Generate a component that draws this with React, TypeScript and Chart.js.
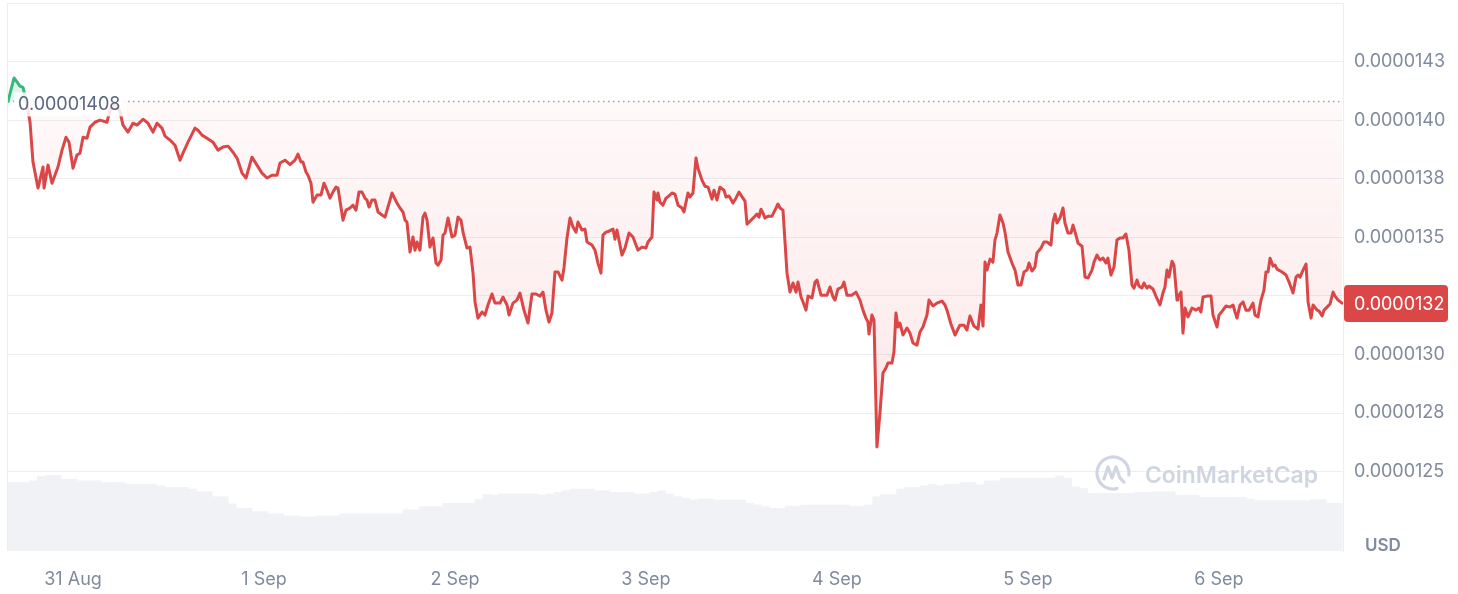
import React, { useEffect, useRef } from 'react';
import { Chart, registerables } from 'chart.js';

Chart.register(...registerables);

// ---------- style ----------
const RED = '#db4646';
const GREEN = '#35b97a';
const GREEN_FILL = 'rgba(22,199,132,0.14)';
const GRID = '#eceef2';
const AXIS_TEXT = '#808a9d';
const LABEL_TEXT = '#58667e';
const VOLUME_COLOR = '#f1f2f6';
const WATERMARK_COLOR = '#d0d6e1';
const FONT = 'Inter, "Noto Sans", sans-serif';

// ---------- data ----------
// prices in micro-USD (1 = 0.000001 USD); time in hours since 31 Aug 00:00
const OPEN_PRICE = 14.08;
const OPEN_LABEL = '0.00001408';
const LAST_LABEL = '0.0000132';
const CURRENCY = 'USD';
const WATERMARK = 'CoinMarketCap';

const X_MIN = -8.17;
const X_MAX = 159.6;
const Y_MIN = 12.161;
const Y_MAX = 14.5;

const xTickHours = [0, 24, 48, 72, 96, 120, 144];
const xTickLabels = ['31 Aug', '1 Sep', '2 Sep', '3 Sep', '4 Sep', '5 Sep', '6 Sep'];

const yTickValues = [12.5, 12.75, 13, 13.25, 13.5, 13.75, 14, 14.25, 14.5];
const yTickLabels = ['0.0000125', '0.0000128', '0.0000130', '0.0000132', '0.0000135', '0.0000138', '0.0000140', '0.0000143', ''];

const priceHours = [
  -8.17, -7.41, -6.66, -6.28, -5.78, -5.40, -5.03, -4.40, -3.77, -3.64, -3.14, -2.64, -1.89, -1.38, -0.88, -0.50,
  0.00, 0.50, 0.88, 1.26, 1.76, 2.14, 2.76, 3.39, 4.27, 4.65, 5.28, 5.91, 6.28, 6.91, 7.54, 8.04,
  8.80, 9.42, 10.05, 10.56, 11.18, 11.56, 12.19, 12.82, 13.45, 13.82, 14.45, 15.33, 15.71, 16.21, 16.84, 17.59,
  18.22, 18.85, 19.48, 20.11, 20.61, 21.24, 21.74, 22.49, 23.12, 23.75, 24.38, 25.01, 25.64, 26.01, 26.64, 27.27,
  27.90, 28.27, 28.65, 28.90, 29.28, 29.53, 29.91, 30.16, 30.66, 31.16, 31.54, 31.92, 32.30, 32.67, 33.05, 33.30,
  33.93, 34.31, 34.81, 35.19, 35.56, 35.94, 36.32, 36.69, 36.94, 37.20, 37.57, 37.95, 38.33, 38.83, 39.21, 39.58,
  40.09, 40.21, 40.71, 41.09, 41.47, 41.72, 41.97, 42.35, 42.72, 42.98, 43.23, 43.60, 43.98, 44.23, 44.49, 44.86,
  45.24, 45.62, 45.87, 46.25, 46.50, 46.75, 47.13, 47.63, 48.00, 48.38, 48.76, 49.01, 49.51, 49.89, 50.27, 50.52,
  50.89, 51.40, 51.77, 52.15, 52.65, 53.03, 53.66, 54.03, 54.54, 54.79, 55.29, 55.79, 56.17, 56.67, 57.18, 57.68,
  58.18, 58.69, 59.06, 59.44, 59.82, 60.19, 60.57, 60.95, 61.45, 61.70, 62.08, 62.46, 62.83, 63.21, 63.46, 63.96,
  64.34, 64.59, 65.22, 65.60, 65.97, 66.35, 66.60, 66.98, 67.36, 67.86, 68.11, 68.36, 68.99, 69.37, 69.87, 70.37,
  71.00, 71.50, 72.00, 72.26, 72.76, 73.01, 73.39, 73.51, 73.76, 74.14, 74.52, 74.89, 75.27, 75.65, 76.03, 76.53,
  76.78, 77.28, 77.53, 77.91, 78.29, 78.54, 79.04, 79.42, 79.80, 80.30, 80.55, 80.93, 81.30, 81.81, 82.06, 82.44,
  82.94, 83.31, 83.69, 84.19, 84.45, 84.70, 85.20, 85.70, 85.95, 86.21, 86.46, 86.71, 86.96, 87.34, 87.84, 88.22,
  88.59, 88.85, 89.22, 89.73, 90.10, 90.48, 90.86, 91.11, 91.49, 91.74, 92.12, 92.37, 92.87, 93.25, 93.50, 94.00,
  94.75, 95.13, 95.51, 95.76, 96.13, 96.64, 96.89, 97.26, 97.89, 98.39, 98.90, 99.27, 99.65, 99.90, 100.03, 100.40,
  100.66, 101.03, 101.41, 101.79, 102.16, 102.41, 102.92, 103.17, 103.42, 103.67, 103.92, 104.30, 104.80, 105.18, 105.56, 106.06,
  106.44, 106.81, 107.32, 107.57, 108.07, 108.57, 109.20, 109.58, 109.83, 110.33, 110.84, 111.46, 111.97, 112.34, 112.72, 113.22,
  113.73, 114.10, 114.36, 114.61, 114.86, 115.24, 115.61, 115.86, 116.12, 116.49, 116.87, 117.12, 117.50, 118.00, 118.38, 118.76,
  119.13, 119.51, 119.89, 120.14, 120.51, 120.89, 121.14, 121.65, 122.02, 122.40, 122.90, 123.15, 123.41, 123.66, 124.03, 124.41,
  124.66, 125.04, 125.42, 125.67, 126.04, 126.30, 126.80, 127.18, 127.55, 128.06, 128.31, 128.68, 129.06, 129.44, 129.81, 130.06,
  130.44, 130.82, 131.19, 131.57, 131.95, 132.32, 132.70, 133.08, 133.33, 133.71, 133.96, 134.33, 134.59, 134.96, 135.22, 135.72,
  136.09, 136.60, 136.97, 137.23, 137.48, 137.73, 138.11, 138.36, 138.74, 138.86, 139.24, 139.49, 139.74, 140.12, 140.62, 141.13,
  141.50, 141.75, 142.01, 142.51, 143.01, 143.26, 143.77, 144.02, 144.52, 144.90, 145.40, 145.78, 146.03, 146.28, 146.66, 147.04,
  147.41, 147.79, 148.29, 148.54, 148.92, 149.30, 149.67, 149.92, 150.18, 150.43, 150.81, 151.06, 151.31, 151.94, 152.44, 152.82,
  153.32, 153.70, 153.95, 154.20, 154.58, 154.96, 155.21, 155.59, 155.84, 156.34, 156.59, 156.97, 157.22, 157.60, 157.97, 158.35,
  158.60, 158.98, 159.48,
];

const priceMicro = [
  14.080, 14.180, 14.145, 14.140, 14.064, 13.991, 13.821, 13.710, 13.800, 13.710, 13.808, 13.731, 13.800, 13.872, 13.927, 13.906,
  13.795, 13.851, 13.859, 13.927, 13.923, 13.970, 13.991, 14.000, 13.991, 14.043, 14.077, 14.034, 13.979, 13.949, 13.987, 13.979,
  14.004, 13.987, 13.949, 13.987, 13.966, 13.932, 13.915, 13.893, 13.829, 13.859, 13.906, 13.966, 13.957, 13.936, 13.923, 13.906,
  13.872, 13.885, 13.889, 13.863, 13.838, 13.774, 13.753, 13.842, 13.808, 13.774, 13.753, 13.765, 13.765, 13.817, 13.829, 13.810,
  13.829, 13.855, 13.821, 13.821, 13.778, 13.765, 13.731, 13.650, 13.680, 13.680, 13.731, 13.701, 13.667, 13.693, 13.714, 13.710,
  13.573, 13.616, 13.625, 13.637, 13.616, 13.693, 13.693, 13.667, 13.659, 13.629, 13.659, 13.659, 13.608, 13.595, 13.586, 13.629,
  13.689, 13.689, 13.646, 13.625, 13.608, 13.573, 13.565, 13.437, 13.501, 13.445, 13.480, 13.445, 13.586, 13.603, 13.573, 13.458,
  13.497, 13.390, 13.381, 13.403, 13.509, 13.518, 13.582, 13.501, 13.509, 13.586, 13.573, 13.522, 13.454, 13.458, 13.347, 13.224,
  13.155, 13.181, 13.168, 13.211, 13.258, 13.219, 13.219, 13.245, 13.211, 13.168, 13.219, 13.232, 13.262, 13.189, 13.134, 13.258,
  13.258, 13.249, 13.266, 13.189, 13.138, 13.177, 13.352, 13.352, 13.317, 13.369, 13.497, 13.582, 13.544, 13.522, 13.565, 13.531,
  13.535, 13.480, 13.467, 13.445, 13.390, 13.347, 13.509, 13.522, 13.526, 13.535, 13.492, 13.531, 13.424, 13.454, 13.518, 13.501,
  13.445, 13.458, 13.454, 13.480, 13.501, 13.693, 13.659, 13.689, 13.650, 13.637, 13.667, 13.676, 13.689, 13.684, 13.637, 13.625,
  13.608, 13.689, 13.672, 13.689, 13.838, 13.795, 13.744, 13.718, 13.714, 13.663, 13.701, 13.659, 13.714, 13.701, 13.672, 13.676,
  13.646, 13.667, 13.693, 13.667, 13.654, 13.556, 13.573, 13.590, 13.599, 13.586, 13.620, 13.603, 13.582, 13.590, 13.590, 13.616,
  13.642, 13.625, 13.616, 13.347, 13.266, 13.305, 13.266, 13.309, 13.245, 13.224, 13.189, 13.249, 13.241, 13.309, 13.317, 13.253,
  13.253, 13.288, 13.245, 13.232, 13.279, 13.288, 13.309, 13.253, 13.253, 13.266, 13.232, 13.189, 13.155, 13.138, 13.087, 13.168,
  13.147, 12.605, 12.750, 12.921, 12.942, 12.963, 12.963, 13.010, 13.177, 13.117, 13.134, 13.083, 13.113, 13.091, 13.049, 13.040,
  13.096, 13.117, 13.168, 13.232, 13.207, 13.219, 13.228, 13.211, 13.189, 13.130, 13.083, 13.125, 13.125, 13.104, 13.164, 13.121,
  13.108, 13.211, 13.121, 13.394, 13.360, 13.407, 13.394, 13.488, 13.518, 13.595, 13.561, 13.522, 13.437, 13.390, 13.360, 13.296,
  13.296, 13.352, 13.360, 13.390, 13.356, 13.373, 13.433, 13.454, 13.480, 13.480, 13.467, 13.565, 13.599, 13.561, 13.582, 13.625,
  13.561, 13.518, 13.518, 13.552, 13.509, 13.475, 13.462, 13.330, 13.326, 13.360, 13.394, 13.424, 13.403, 13.411, 13.390, 13.411,
  13.339, 13.373, 13.488, 13.497, 13.497, 13.514, 13.445, 13.296, 13.283, 13.317, 13.292, 13.283, 13.305, 13.283, 13.292, 13.279,
  13.249, 13.211, 13.262, 13.288, 13.360, 13.330, 13.398, 13.381, 13.232, 13.245, 13.266, 13.091, 13.198, 13.160, 13.198, 13.189,
  13.198, 13.181, 13.245, 13.249, 13.249, 13.168, 13.117, 13.168, 13.189, 13.207, 13.202, 13.211, 13.181, 13.155, 13.211, 13.224,
  13.189, 13.189, 13.219, 13.168, 13.160, 13.232, 13.275, 13.352, 13.352, 13.411, 13.377, 13.381, 13.364, 13.352, 13.339, 13.309,
  13.262, 13.330, 13.339, 13.330, 13.360, 13.386, 13.224, 13.155, 13.211, 13.189, 13.185, 13.164, 13.189, 13.202, 13.215, 13.266,
  13.249, 13.232, 13.219,
];

// hourly volume (relative units, hidden axis 0..100), first bar at hour -8
const VOLUME_START_HOUR = -8;
const volumeValues = [
  12.5, 12.5, 12.5, 12.8, 13.6, 13.8, 13.8, 13.1,
  13.1, 12.8, 12.8, 12.8, 12.5, 12.5, 12.5, 12.2, 12.2, 12.2, 12.2, 11.9,
  11.6, 11.6, 11.6, 11.3, 10.8, 10.8, 9.9, 9.9, 8.6, 7.8, 7.8, 7.2,
  7.2, 6.8, 6.8, 6.4, 6.4, 6.2, 6.2, 6.4, 6.4, 6.4, 6.8, 6.8,
  6.8, 6.8, 6.8, 6.8, 6.8, 6.8, 7.5, 7.5, 8.1, 8.1, 8.1, 8.7,
  8.7, 8.7, 8.7, 9.4, 10.3, 10.2, 10.4, 10.4, 10.4, 10.4, 10.4, 10.2,
  10.4, 10.7, 11.0, 11.3, 11.3, 11.3, 11.0, 11.0, 10.7, 10.7, 10.7, 10.4,
  10.4, 10.7, 11.0, 10.4, 9.9, 9.6, 9.3, 9.5, 9.5, 9.3, 9.3, 9.3,
  9.3, 8.7, 8.4, 8.1, 7.8, 7.8, 8.2, 8.2, 8.4, 8.4, 8.4, 8.4,
  8.4, 8.4, 8.2, 8.2, 8.4, 9.9, 10.3, 10.3, 11.3, 11.6, 11.6, 11.9,
  12.2, 11.9, 12.2, 12.2, 12.5, 12.5, 12.1, 12.8, 12.8, 13.3, 13.3, 13.3,
  13.3, 13.3, 13.3, 13.3, 13.7, 13.3, 11.7, 11.4, 10.5, 10.5, 10.5, 10.5,
  10.5, 10.5, 10.7, 10.7, 10.8, 10.8, 10.8, 10.2, 10.2, 10.2, 9.8, 9.8,
  9.8, 9.8, 9.8, 9.8, 9.5, 9.2, 9.2, 9.2, 9.2, 9.2, 9.2, 9.2,
  9.4, 9.4, 8.7, 8.7,
];

const priceData = priceHours.map((h, i) => ({ x: h, y: priceMicro[i] }));
const volumeData = volumeValues.map((v, i) => ({ x: VOLUME_START_HOUR + i, y: v }));

function belowFill(ctx: any) {
  const chart = ctx.chart;
  const area = chart.chartArea;
  const ys = chart.scales && chart.scales.y;
  if (!area || !ys) return 'rgba(234,57,67,0.07)';
  const top = ys.getPixelForValue(OPEN_PRICE);
  const g = chart.ctx.createLinearGradient(0, top, 0, area.bottom);
  g.addColorStop(0, 'rgba(234,57,67,0.03)');
  g.addColorStop(1, 'rgba(234,57,67,0.15)');
  return g;
}

const overlayPlugin = {
  id: 'cmcOverlay',
  beforeDatasetsDraw(chart: any) {
    const { ctx, chartArea: a, scales } = chart;
    const y = scales.y.getPixelForValue(OPEN_PRICE);
    ctx.save();
    ctx.strokeStyle = GRID;
    ctx.lineWidth = 1;
    ctx.beginPath();
    ctx.moveTo(a.left - 0.5, a.top);
    ctx.lineTo(a.left - 0.5, a.bottom);
    ctx.stroke();
    ctx.setLineDash([1.5, 3.5]);
    ctx.strokeStyle = '#9aa3b3';
    ctx.lineWidth = 1.5;
    ctx.beginPath();
    ctx.moveTo(a.left, y);
    ctx.lineTo(a.right, y);
    ctx.stroke();
    ctx.restore();
  },
  afterDatasetsDraw(chart: any) {
    const { ctx, chartArea: a, scales } = chart;
    const y = scales.y.getPixelForValue(OPEN_PRICE);
    ctx.save();
    // open price label
    ctx.font = `18px ${FONT}`;
    const tw = ctx.measureText(OPEN_LABEL).width;
    ctx.fillStyle = 'rgba(255,255,255,0.85)';
    ctx.fillRect(a.left + 6, y - 9, tw + 10, 24);
    ctx.fillStyle = LABEL_TEXT;
    ctx.textAlign = 'left';
    ctx.textBaseline = 'middle';
    ctx.fillText(OPEN_LABEL, a.left + 10, y + 3);

    // last price badge
    const last = priceMicro[priceMicro.length - 1];
    const ly = scales.y.getPixelForValue(last);
    ctx.fillStyle = RED;
    ctx.beginPath();
    ctx.roundRect(a.right + 1, ly - 18, 104, 37, 4);
    ctx.fill();
    ctx.fillStyle = '#ffffff';
    ctx.font = `18px ${FONT}`;
    ctx.fillText(LAST_LABEL, a.right + 11, ly + 1);

    // currency
    ctx.fillStyle = AXIS_TEXT;
    ctx.font = `600 17px ${FONT}`;
    ctx.fillText(CURRENCY, a.right + 22, a.bottom - 5);

    // watermark
    const cx = a.right - 230;
    const cy = a.bottom - 78;
    ctx.strokeStyle = WATERMARK_COLOR;
    ctx.lineWidth = 3.2;
    ctx.lineCap = 'round';
    ctx.lineJoin = 'round';
    ctx.beginPath();
    ctx.arc(cx, cy, 16, 0.42 * Math.PI, 2.04 * Math.PI);
    ctx.stroke();
    ctx.beginPath();
    ctx.moveTo(cx - 9, cy + 6);
    ctx.lineTo(cx - 5, cy - 6);
    ctx.lineTo(cx - 1, cy + 5);
    ctx.lineTo(cx + 3, cy - 6);
    ctx.lineTo(cx + 7, cy + 5);
    ctx.lineTo(cx + 11, cy + 9);
    ctx.stroke();
    ctx.fillStyle = WATERMARK_COLOR;
    ctx.font = `600 22px ${FONT}`;
    const ww = ctx.measureText(WATERMARK).width;
    const size = (22 * 173) / ww;
    ctx.font = `600 ${size.toFixed(2)}px ${FONT}`;
    ctx.fillText(WATERMARK, cx + 32, cy + 3);
    ctx.restore();
  },
};

export default function App() {
  const ref = useRef<HTMLCanvasElement>(null);
  useEffect(() => {
    document.body.style.margin = '0';
    const canvas = ref.current;
    if (!canvas) return;
    const chart = new Chart(canvas, {
      type: 'line',
      data: {
        datasets: [
          {
            type: 'line',
            data: priceData,
            yAxisID: 'y',
            xAxisID: 'x',
            borderColor: RED,
            borderWidth: 3,
            pointRadius: 0,
            tension: 0,
            borderJoinStyle: 'round',
            borderCapStyle: 'round',
            backgroundColor: belowFill,
            fill: { target: { value: OPEN_PRICE }, above: GREEN_FILL },
            segment: {
              borderColor: (c: any) => (c.p0.parsed.y >= OPEN_PRICE ? GREEN : undefined),
            },
            order: 0,
          } as any,
          {
            type: 'bar',
            data: volumeData,
            yAxisID: 'yv',
            xAxisID: 'x',
            backgroundColor: VOLUME_COLOR,
            borderWidth: 0,
            barPercentage: 1,
            categoryPercentage: 1,
            order: 1,
          } as any,
        ],
      },
      options: {
        animation: false,
        responsive: false,
        maintainAspectRatio: false,
        events: [],
        layout: { padding: { left: 8, top: 3, right: 0, bottom: 0 } },
        plugins: { legend: { display: false }, tooltip: { enabled: false } },
        scales: {
          x: {
            type: 'linear',
            min: X_MIN,
            max: X_MAX,
            offset: false,
            grid: { display: false, offset: false },
            border: { display: false },
            afterBuildTicks: (s: any) => {
              s.ticks = xTickHours.map((v) => ({ value: v }));
            },
            afterFit: (s: any) => {
              s.height = 43;
              s.paddingLeft = 0;
              s.paddingRight = 0;
            },
            ticks: {
              autoSkip: false,
              maxRotation: 0,
              padding: 10,
              color: AXIS_TEXT,
              font: { family: FONT, size: 18 },
              callback: (_v: any, i: number) => xTickLabels[i],
            },
          },
          y: {
            type: 'linear',
            position: 'right',
            min: Y_MIN,
            max: Y_MAX,
            grid: { color: GRID, drawTicks: false },
            border: { display: true, color: GRID },
            afterBuildTicks: (s: any) => {
              s.ticks = yTickValues.map((v) => ({ value: v }));
            },
            afterFit: (s: any) => {
              s.width = 115;
              s.paddingTop = 0;
              s.paddingBottom = 0;
            },
            ticks: {
              autoSkip: false,
              padding: 11,
              color: AXIS_TEXT,
              font: { family: FONT, size: 18 },
              callback: (_v: any, i: number) => yTickLabels[i],
            },
          },
          yv: { type: 'linear', display: false, min: 0, max: 100 },
        },
      } as any,
      plugins: [overlayPlugin],
    });
    return () => chart.destroy();
  }, []);
  return (
    <div style={{ width: 1458, height: 594, background: '#ffffff' }}>
      <canvas ref={ref} width={1458} height={594} style={{ display: 'block', width: 1458, height: 594 }} />
    </div>
  );
}
